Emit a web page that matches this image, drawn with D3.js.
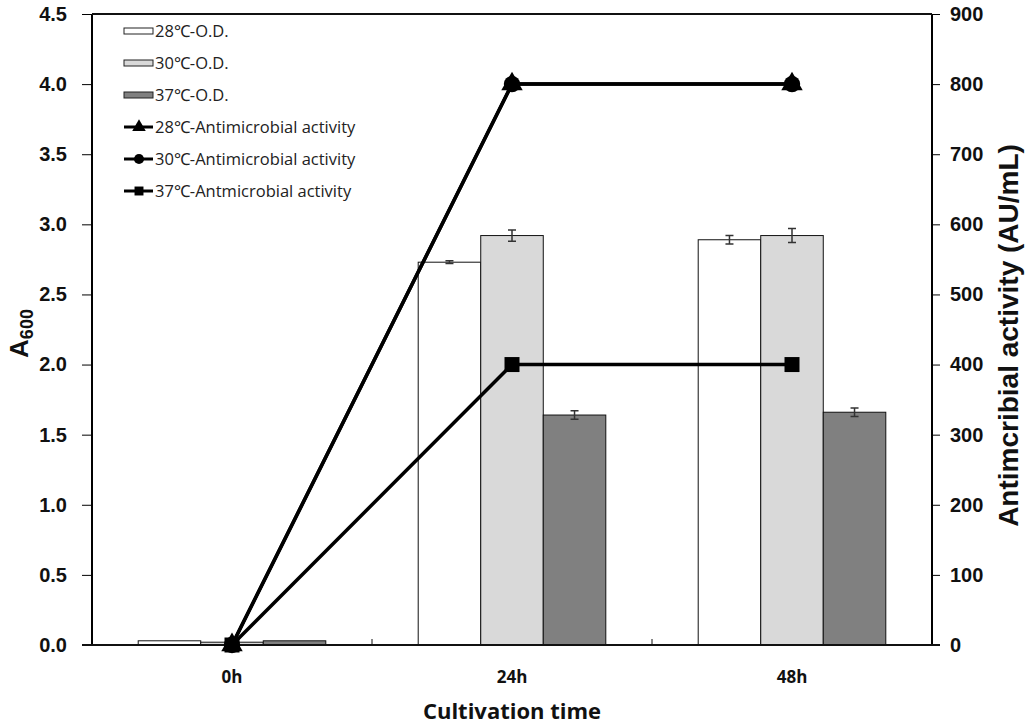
<!DOCTYPE html>
<html>
<head>
<meta charset="utf-8">
<script src="https://cdn.jsdelivr.net/npm/d3@7"></script>
<style>
  body { margin: 0; background: #fff; }
  .tick text { font-family: 'Liberation Sans', Arial, sans-serif; font-weight: bold; font-size: 20px; fill: #111; }
  .legend text { font-family: 'Open Sans', sans-serif; font-size: 16.5px; fill: #222; }
</style>
</head>
<body>
<div class="chart"></div>
<script>
// categories and values
var categories = ["0h", "24h", "48h"];
var odSeries = ["28℃-O.D.", "30℃-O.D.", "37℃-O.D."];
var odValues = [
  [0.03, 2.73, 2.89],   // 28
  [0.02, 2.92, 2.92],   // 30
  [0.03, 1.64, 1.66]    // 37
];
var odErrors = [
  [0, 0.01, 0.03],
  [0, 0.04, 0.05],
  [0, 0.03, 0.03]
];
var actSeries = ["28℃-Antimicrobial activity", "30℃-Antimicrobial activity", "37℃-Antmicrobial activity"];
var actValues = [
  [0, 800, 800],
  [0, 800, 800],
  [0, 400, 400]
];
var leftTicks = [0, 0.5, 1, 1.5, 2, 2.5, 3, 3.5, 4, 4.5];
var rightTicks = [0, 100, 200, 300, 400, 500, 600, 700, 800, 900];

var barColors = ["#ffffff", "#d9d9d9", "#808080"];
var markers = [d3.symbolTriangle, d3.symbolCircle, d3.symbolSquare];
var markerSizes = [200, 210, 225];

var margin = { top: 14, right: 95, bottom: 82, left: 92 },
    W = 1027, H = 727,
    width = W - margin.left - margin.right,
    height = H - margin.top - margin.bottom;

var svg = d3.select(".chart").append("svg")
    .attr("width", W)
    .attr("height", H)
    .append("g")
    .attr("transform", "translate(" + margin.left + "," + margin.top + ")");

var x0 = d3.scaleBand()
    .domain(categories)
    .range([0, width])
    .paddingInner(0.33)
    .paddingOuter(0.165);

var x1 = d3.scaleBand()
    .domain(d3.range(odSeries.length))
    .range([0, x0.bandwidth()]);

var yL = d3.scaleLinear().domain([0, 4.5]).range([height, 0]);
var yR = d3.scaleLinear().domain([0, 900]).range([height, 0]);

function cx(c) { return x0(c) + x0.bandwidth() / 2; }

// bars
odValues.forEach(function (vals, s) {
    var g = svg.append("g");
    g.selectAll("rect")
        .data(vals)
        .enter()
        .append("rect")
        .attr("x", function (d, i) { return x0(categories[i]) + x1(s); })
        .attr("y", function (d) { return yL(d); })
        .attr("width", x1.bandwidth())
        .attr("height", function (d) { return height - yL(d); })
        .attr("fill", barColors[s])
        .attr("stroke", "#111")
        .attr("stroke-width", 1);

    // error bars
    vals.forEach(function (d, i) {
        var e = odErrors[s][i];
        if (!e) return;
        var ex = x0(categories[i]) + x1(s) + x1.bandwidth() / 2;
        g.append("path")
            .attr("d", "M" + ex + "," + yL(d - e) + "V" + yL(d + e) +
                "M" + (ex - 4) + "," + yL(d + e) + "H" + (ex + 4) +
                "M" + (ex - 4) + "," + yL(d - e) + "H" + (ex + 4))
            .attr("stroke", "#333")
            .attr("stroke-width", 1.5)
            .attr("fill", "none");
    });
});

// axes
svg.append("g")
    .attr("class", "y axis")
    .call(d3.axisLeft(yL).tickValues(leftTicks).tickSize(10).tickPadding(15).tickFormat(d3.format(".1f")))
    .call(function (g) { g.select(".domain").attr("stroke-width", 2).attr("d", "M0," + height + "V0"); });

svg.append("g")
    .attr("class", "y axis")
    .attr("transform", "translate(" + width + ",0)")
    .call(d3.axisRight(yR).tickValues(rightTicks).tickSize(8).tickPadding(10))
    .call(function (g) { g.select(".domain").attr("stroke-width", 2).attr("d", "M0," + height + "V0"); });

// top border
svg.append("line")
    .attr("x1", 0).attr("x2", width)
    .attr("y1", 0).attr("y2", 0)
    .attr("stroke", "#111").attr("stroke-width", 2);

// bottom axis with boundary ticks pointing up
var step = x0.step();
svg.append("line")
    .attr("x1", -10).attr("x2", width + 8)
    .attr("y1", height).attr("y2", height)
    .attr("stroke", "#111").attr("stroke-width", 2);
svg.selectAll(".btick")
    .data(d3.range(1, categories.length))
    .enter()
    .append("line")
    .attr("class", "btick")
    .attr("x1", function (d) { return d * step; })
    .attr("x2", function (d) { return d * step; })
    .attr("y1", height).attr("y2", height - 6)
    .attr("stroke", "#111").attr("stroke-width", 1);

svg.selectAll(".cat")
    .data(categories)
    .enter()
    .append("text")
    .attr("class", "cat")
    .attr("x", cx)
    .attr("y", height + 38)
    .attr("text-anchor", "middle")
    .style("font-family", "'Open Sans', sans-serif")
    .style("font-weight", "bold")
    .style("font-size", "17px")
    .attr("fill", "#111")
    .text(function (d) { return d; });

// activity lines
var line = d3.line()
    .x(function (d, i) { return cx(categories[i]); })
    .y(function (d) { return yR(d); });

actValues.forEach(function (vals, s) {
    svg.append("path")
        .datum(vals)
        .attr("d", line)
        .attr("fill", "none")
        .attr("stroke", "#000")
        .attr("stroke-width", 3.5);
});
actValues.forEach(function (vals, s) {
    svg.append("g").selectAll("path")
        .data(vals)
        .enter()
        .append("path")
        .attr("d", d3.symbol().type(markers[s]).size(markerSizes[s]))
        .attr("transform", function (d, i) {
            return "translate(" + cx(categories[i]) + "," + yR(d) + ")";
        })
        .attr("fill", "#000");
});

// axis titles
svg.append("text")
    .attr("x", width / 2)
    .attr("y", height + 74)
    .attr("text-anchor", "middle")
    .style("font-family", "'Open Sans', sans-serif")
    .style("font-weight", "bold")
    .style("font-size", "22px")
    .attr("fill", "#111")
    .text("Cultivation time");

var aLab = svg.append("text")
    .attr("transform", "translate(-64," + (height / 2 + 4) + ") rotate(-90)")
    .attr("text-anchor", "middle")
    .style("font-family", "'Liberation Sans', Arial, sans-serif")
    .style("font-weight", "bold")
    .style("font-size", "26px")
    .attr("fill", "#111");
aLab.append("tspan").text("A");
aLab.append("tspan").attr("dy", 5).style("font-size", "18px").text("600");

svg.append("text")
    .attr("transform", "translate(" + (width + 86) + "," + (height / 2 + 6) + ") rotate(-90)")
    .attr("text-anchor", "middle")
    .style("font-family", "'Liberation Sans', Arial, sans-serif")
    .style("font-weight", "bold")
    .style("font-size", "28px")
    .attr("fill", "#111")
    .text("Antimcribial activity (AU/mL)");

// legend
var legend = svg.append("g")
    .attr("class", "legend")
    .attr("transform", "translate(32,17)");
var rowH = 32;
odSeries.forEach(function (name, s) {
    var r = legend.append("g").attr("transform", "translate(0," + (s * rowH) + ")");
    r.append("rect")
        .attr("x", 0).attr("y", -3)
        .attr("width", 29).attr("height", 6)
        .attr("fill", barColors[s])
        .attr("stroke", "#222");
    r.append("text").attr("x", 31).attr("y", 6).text(name);
});
actSeries.forEach(function (name, s) {
    var r = legend.append("g").attr("transform", "translate(0," + ((s + 3) * rowH) + ")");
    r.append("line")
        .attr("x1", 0).attr("x2", 29)
        .attr("stroke", "#000").attr("stroke-width", 3);
    r.append("path")
        .attr("d", d3.symbol().type(markers[s]).size(80))
        .attr("transform", "translate(15,0)")
        .attr("fill", "#000");
    r.append("text").attr("x", 31).attr("y", 6).text(name);
});
</script>
</body>
</html>
